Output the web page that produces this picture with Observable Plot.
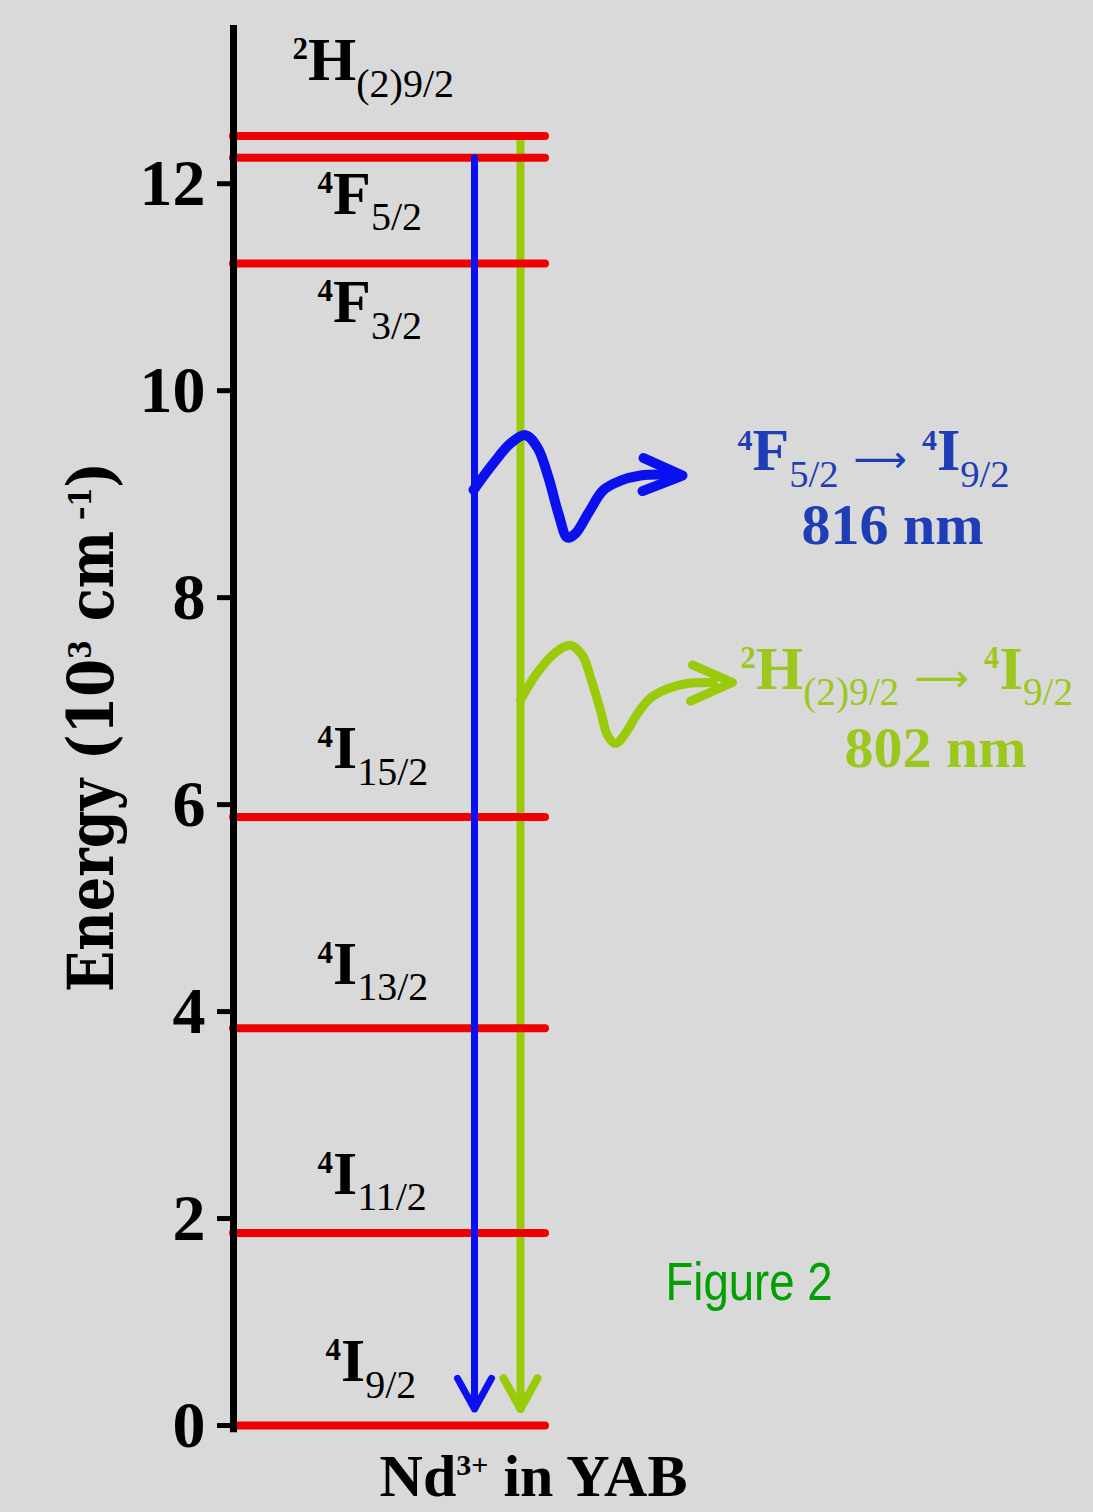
<!DOCTYPE html>
<html><head><meta charset="utf-8">
<script src="https://cdn.jsdelivr.net/npm/d3@7"></script>
<script src="https://cdn.jsdelivr.net/npm/@observablehq/plot@0.6"></script>
<style>
html,body{margin:0;padding:0;background:#d9d9d9;overflow:hidden;}
#chart svg{display:block;}
</style></head><body><div id="chart"></div>
<script>
// ---- Data (energy in 10^3 cm^-1) ----
const levelSup    = ["2", "4", "4", "4", "4", "4", "4"];
const levelTerm   = ["H", "F", "F", "I", "I", "I", "I"];
const levelSub    = ["(2)9/2", "5/2", "3/2", "15/2", "13/2", "11/2", "9/2"];
const levelEnergy = [12.46, 12.25, 11.23, 5.88, 3.84, 1.86, 0];
const labelX      = [0.59, 0.84, 0.84, 0.84, 0.84, 0.84, 0.92];
const labelY      = [13.0, 11.71, 10.66, 6.35, 4.27, 2.24, 0.43];
const yTicks      = [0, 2, 4, 6, 8, 10, 12];

// emissions: 4F5/2 -> 4I9/2 (816 nm), 2H(2)9/2 -> 4I9/2 (802 nm)
const emissionUpperSup  = ["4", "2"];
const emissionUpperTerm = ["F", "H"];
const emissionUpperSub  = ["5/2", "(2)9/2"];
const emissionLowerSup  = ["4", "4"];
const emissionLowerTerm = ["I", "I"];
const emissionLowerSub  = ["9/2", "9/2"];
const emissionWavelength = ["816 nm", "802 nm"];
const emissionFrom = [12.25, 12.46];
const emissionTo   = [0.16, 0.16];
const emissionX    = [2.41, 2.87];
const emissionLabelX = [5.04, 5.07];
const emissionLabelY = [9.23, 7.12];
const wavelengthX = [6.59, 7.02];
const wavelengthY = [8.52, 6.36];

// wavy photon arrows
const blueWaveX = [2.40, 2.60, 2.77, 2.92, 3.04, 3.15, 3.25, 3.34, 3.42, 3.55, 3.70, 3.87, 4.07, 4.27, 4.42];
const blueWaveY = [9.04, 9.30, 9.49, 9.57, 9.45, 9.16, 8.81, 8.58, 8.62, 8.82, 9.04, 9.13, 9.18, 9.19, 9.18];
const blueHeadX = [4.10, 4.49, 4.09];
const blueHeadY = [9.35, 9.18, 9.03];
const greenWaveX = [2.87, 3.02, 3.22, 3.37, 3.49, 3.57, 3.67, 3.74, 3.82, 3.92, 4.04, 4.17, 4.34, 4.54, 4.80];
const greenWaveY = [7.01, 7.25, 7.47, 7.54, 7.44, 7.23, 6.91, 6.67, 6.59, 6.69, 6.88, 7.03, 7.12, 7.17, 7.18];
const greenHeadX = [4.59, 4.99, 4.57];
const greenHeadY = [7.35, 7.18, 7.00];

const yLabel = "Energy (10~^3~ cm\u2009~^\u20131~)";
const xLabel = "Nd~^3+~ in YAB";
const caption = "Figure 2";

// ---- Styles ----
const SERIF = "'Liberation Serif', 'Times New Roman', serif";
const RED = "#ee0000", BLUE = "#0a10ee", GREEN = "#9acb0a";
const BLUE_TEXT = "#1f3db4", GREEN_TEXT = "#9cc71e";
const idx = a => a.map((_, i) => i);
const emissionText = i => `^${emissionUpperSup[i]}~${emissionUpperTerm[i]}~_${emissionUpperSub[i]}~ ~=\u27F6~ ~^${emissionLowerSup[i]}~${emissionLowerTerm[i]}~_${emissionLowerSub[i]}`;

const plot = Plot.plot({
  width: 1093,
  height: 1512,
  marginLeft: 233,
  marginRight: 0,
  marginTop: 28,
  marginBottom: 87,
  style: {background: "#d9d9d9", color: "black", overflow: "visible"},
  x: {domain: [0, 8.6], axis: null},
  y: {domain: [0, 13.5]},
  marks: [
    Plot.arrow([1], {x1: i => emissionX[i], x2: i => emissionX[i], y1: i => emissionFrom[i], y2: i => emissionTo[i],
      stroke: GREEN, strokeWidth: 8, headLength: 6.6, headAngle: 58, strokeLinecap: "round", strokeLinejoin: "round"}),
    Plot.ruleY(levelEnergy, {x1: 0, x2: 3.12, stroke: RED, strokeWidth: 8, strokeLinecap: "round"}),
    Plot.arrow([0], {x1: i => emissionX[i], x2: i => emissionX[i], y1: i => emissionFrom[i], y2: i => emissionTo[i],
      stroke: BLUE, strokeWidth: 7, headLength: 7.5, headAngle: 58, strokeLinecap: "round", strokeLinejoin: "round"}),
    Plot.ruleX([0], {y1: -0.07, y2: 13.53, stroke: "black", strokeWidth: 7}),
    Plot.axisY({ticks: yTicks, tickSize: 16, tickPadding: 12, strokeWidth: 5, label: null,
      fontSize: 66, fontWeight: "bold", fontFamily: SERIF}),
    Plot.line(blueWaveX, {x: blueWaveX, y: blueWaveY, curve: "catmull-rom", stroke: BLUE, strokeWidth: 10, strokeLinecap: "round"}),
    Plot.line(blueHeadX, {x: blueHeadX, y: blueHeadY, stroke: BLUE, strokeWidth: 10, strokeLinecap: "round", strokeLinejoin: "round"}),
    Plot.line(greenWaveX, {x: greenWaveX, y: greenWaveY, curve: "catmull-rom", stroke: GREEN, strokeWidth: 9, strokeLinecap: "round"}),
    Plot.line(greenHeadX, {x: greenHeadX, y: greenHeadY, stroke: GREEN, strokeWidth: 9, strokeLinecap: "round", strokeLinejoin: "round"}),
    Plot.text(idx(levelTerm), {x: i => labelX[i], y: i => labelY[i],
      text: i => `^${levelSup[i]}~${levelTerm[i]}~_${levelSub[i]}`,
      textAnchor: "start", lineAnchor: "bottom", fontSize: 62, fontFamily: SERIF, fill: "black"}),
    Plot.text([0], {x: i => emissionLabelX[i], y: i => emissionLabelY[i], text: emissionText,
      textAnchor: "start", lineAnchor: "bottom", fontSize: 60, fontFamily: SERIF, fill: BLUE_TEXT}),
    Plot.text([0], {x: i => wavelengthX[i], y: i => wavelengthY[i], text: i => emissionWavelength[i],
      textAnchor: "middle", lineAnchor: "bottom", fontSize: 58, fontWeight: "bold", fontFamily: SERIF, fill: BLUE_TEXT}),
    Plot.text([1], {x: i => emissionLabelX[i], y: i => emissionLabelY[i], text: emissionText,
      textAnchor: "start", lineAnchor: "bottom", fontSize: 61, fontFamily: SERIF, fill: GREEN_TEXT}),
    Plot.text([1], {x: i => wavelengthX[i], y: i => wavelengthY[i], text: i => emissionWavelength[i],
      textAnchor: "middle", lineAnchor: "bottom", fontSize: 58, fontWeight: "bold", fontFamily: SERIF, fill: GREEN_TEXT}),
    Plot.text([yLabel], {x: -1.21, y: 6.75, text: d => d, rotate: -90, textAnchor: "middle", lineAnchor: "bottom",
      fontSize: 64, fontFamily: "'DejaVu Serif', serif", fill: "black"}),
    Plot.text([xLabel], {x: 3.0, y: -0.68, text: d => d, textAnchor: "middle", lineAnchor: "bottom",
      fontSize: 60, fontFamily: SERIF, fill: "black"}),
    Plot.text([caption], {x: 4.32, y: 1.21, text: d => d, textAnchor: "start", lineAnchor: "bottom",
      fontSize: 53, fontFamily: "'Liberation Sans Narrow', 'Arial Narrow', 'Liberation Sans', sans-serif", fill: "#00a000"})
  ]
});
document.getElementById("chart").appendChild(plot);

// rich text: segments separated by "~"; "^" = superscript, "_" = subscript, "=" = arrow symbol
function richify(svg) {
  svg.querySelectorAll("text").forEach(t => {
    const s = t.textContent;
    if (!s.includes("~")) return;
    const base = parseFloat(getComputedStyle(t).fontSize) || 60;
    while (t.firstChild) t.removeChild(t.firstChild);
    let cur = 0;
    s.split("~").forEach(seg => {
      if (!seg) return;
      let type = "main", txt = seg;
      if (seg[0] === "^") { type = "sup"; txt = seg.slice(1); }
      else if (seg[0] === "_") { type = "sub"; txt = seg.slice(1); }
      else if (seg[0] === "=") { type = "sym"; txt = seg.slice(1); }
      const off = type === "sup" ? -0.34 * base : type === "sub" ? 0.27 * base : type === "sym" ? 0.03 * base : 0;
      const size = type === "sup" ? 0.5 * base : type === "sub" ? 0.645 * base : type === "sym" ? 0.62 * base : base;
      const weight = type === "sub" || type === "sym" ? "normal" : "bold";
      const ts = document.createElementNS("http://www.w3.org/2000/svg", "tspan");
      ts.setAttribute("dy", (off - cur).toFixed(2));
      ts.setAttribute("font-size", size.toFixed(1));
      ts.setAttribute("font-weight", weight);
      if (type === "sym") ts.setAttribute("font-family", "'DejaVu Sans', sans-serif");
      ts.textContent = txt;
      t.appendChild(ts);
      cur = off;
    });
    t.style.whiteSpace = "pre";
  });
  // fit widths of the rotated axis title and the caption to the reference
  svg.querySelectorAll("text").forEach(t => {
    const s = t.textContent;
    let target = null;
    if (s.startsWith("Energy")) target = 530;
    else if (s === caption) target = 167;
    if (target) {
      t.setAttribute("textLength", target);
      t.setAttribute("lengthAdjust", "spacingAndGlyphs");
    }
  });
}
richify(plot);
</script></body></html>
